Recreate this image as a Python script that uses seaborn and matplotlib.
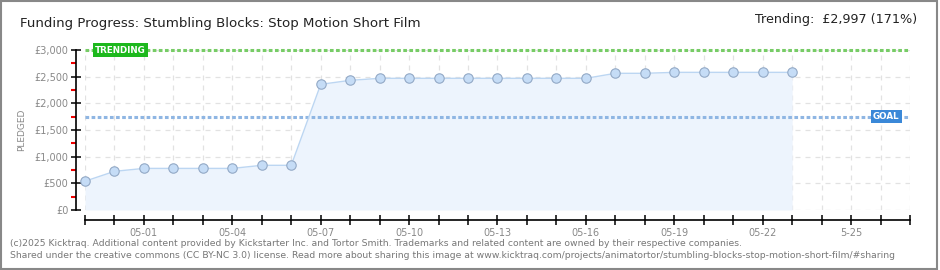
import matplotlib
matplotlib.use("Agg")
import matplotlib.pyplot as plt
import matplotlib.dates as mdates
import matplotlib.transforms as mtransforms
from matplotlib.ticker import MultipleLocator, FuncFormatter, FixedLocator, FixedFormatter
from matplotlib.patches import Rectangle
import seaborn as sns
import pandas as pd

# ---------------- data ----------------
title = "Funding Progress: Stumbling Blocks: Stop Motion Short Film"
trending_text = "Trending:  £2,997 (171%)"
dates = ["2025-04-29", "2025-04-30", "2025-05-01", "2025-05-02", "2025-05-03",
         "2025-05-04", "2025-05-05", "2025-05-06", "2025-05-07", "2025-05-08",
         "2025-05-09", "2025-05-10", "2025-05-11", "2025-05-12", "2025-05-13",
         "2025-05-14", "2025-05-15", "2025-05-16", "2025-05-17", "2025-05-18",
         "2025-05-19", "2025-05-20", "2025-05-21", "2025-05-22", "2025-05-23"]
pledged = [540, 725, 780, 780, 780, 780, 838, 838, 2356, 2431,
           2469, 2469, 2469, 2469, 2469, 2469, 2469, 2469, 2563, 2563,
           2581, 2581, 2581, 2581, 2581]
goal = 1750
trending = 2997
x_start, x_end = "2025-04-29", "2025-05-27"
xtick_dates = ["2025-05-01", "2025-05-04", "2025-05-07", "2025-05-10", "2025-05-13",
               "2025-05-16", "2025-05-19", "2025-05-22", "2025-05-25"]
xtick_labels = ["05-01", "05-04", "05-07", "05-10", "05-13", "05-16", "05-19", "05-22", "5-25"]
minor_yticks = [250, 750, 1250, 1750, 2250, 2750]
footer_lines = [
    "(c)2025 Kicktraq. Additional content provided by Kickstarter Inc. and Tortor Smith. Trademarks and related content are owned by their respective companies.",
    "Shared under the creative commons (CC BY-NC 3.0) license. Read more about sharing this image at www.kicktraq.com/projects/animatortor/stumbling-blocks-stop-motion-short-film/#sharing",
]

df = pd.DataFrame({"date": pd.to_datetime(dates), "pledged": pledged})

# ---------------- style ----------------
sns.set_theme(style="white")
plt.rcParams["font.family"] = ["DejaVu Sans"]

fig = plt.figure(figsize=(9.4, 2.7), dpi=100)
ax = fig.add_axes([85 / 940, 60 / 270, 825 / 940, 160 / 270])

# area fill
ax.fill_between(df["date"], df["pledged"], 0, color="#edf4fd", zorder=1, linewidth=0)

# grid
for d in pd.date_range(x_start, x_end, freq="D"):
    ax.axvline(d, color="#e2e2e2", lw=0.9, ls=(0, (4, 4)), zorder=0.5)
for v in range(0, 3001, 500):
    ax.axhline(v, color="#e2e2e2", lw=0.9, ls=(0, (4, 4)), zorder=0.5)

# goal / trending lines
ax.axhline(goal, color="#8fb6e3", lw=2.2, ls=(0, (1.2, 0.8)), zorder=2)
ax.axhline(trending, color="#77cc66", lw=2.2, ls=(0, (1.2, 0.8)), zorder=2, clip_on=False)

# line + markers
sns.lineplot(data=df, x="date", y="pledged", ax=ax, color="#bcd6f2", lw=1.0, zorder=3)
sns.scatterplot(data=df, x="date", y="pledged", ax=ax, color="#c5dcf6", edgecolor="#93a9c6",
                s=46, linewidth=0.8, zorder=4, clip_on=False)

ax.set_xlim(pd.Timestamp(x_start), pd.Timestamp(x_end))
ax.set_ylim(0, 3000)

# labels boxes
blend = mtransforms.blended_transform_factory(ax.transAxes, ax.transData)
ax.text(0.012, trending, "TRENDING", transform=blend, ha="left", va="center",
        fontsize=6.3, color="white", fontweight="bold", zorder=6,
        bbox=dict(boxstyle="square,pad=0.25", fc="#1db81d", ec="none"))
ax.text(0.955, goal, "GOAL", transform=blend, ha="left", va="center",
        fontsize=6.3, color="white", fontweight="bold", zorder=6,
        bbox=dict(boxstyle="square,pad=0.25", fc="#3a88d8", ec="none"))

# spines
for s in ["top", "right"]:
    ax.spines[s].set_visible(False)
ax.spines["left"].set_position(("outward", 6.5))
ax.spines["bottom"].set_position(("outward", 7.2))
ax.spines["left"].set_color("black")
ax.spines["bottom"].set_color("black")
ax.spines["left"].set_linewidth(1.2)
ax.spines["bottom"].set_linewidth(1.2)

# y ticks
ax.yaxis.set_major_locator(MultipleLocator(500))
ax.yaxis.set_minor_locator(FixedLocator(minor_yticks))
ax.yaxis.set_major_formatter(FuncFormatter(lambda v, p: f"£{int(v):,}"))
ax.tick_params(axis="y", which="major", direction="inout", length=7, width=1.1,
               color="black", labelsize=7, labelcolor="#888888", pad=2, left=True)
ax.tick_params(axis="y", which="minor", direction="out", length=3.5, width=1.5,
               color="#ee0000", left=True)

# x ticks
ax.xaxis.set_minor_locator(mdates.DayLocator())
ax.xaxis.set_major_locator(FixedLocator([mdates.date2num(pd.Timestamp(d)) for d in xtick_dates]))
ax.xaxis.set_major_formatter(FixedFormatter(xtick_labels))
ax.tick_params(axis="x", which="both", direction="inout", length=7, width=1.1,
               color="black", labelsize=7, labelcolor="#888888", pad=2, bottom=True)

ax.set_xlabel("")
ax.set_ylabel("PLEDGED", fontsize=6.5, color="#888888", labelpad=6)

# title texts
fig.text(20 / 940, 1 - 23 / 270, title, fontsize=9.6, color="#222222", va="center", ha="left")
fig.text(917 / 940, 1 - 20 / 270, trending_text, fontsize=9.2, color="#222222", va="center", ha="right")

# footer
fig.text(10 / 940, 1 - 243 / 270, footer_lines[0], fontsize=6.7, color="#777777", va="center", ha="left")
fig.text(10 / 940, 1 - 255 / 270, footer_lines[1], fontsize=6.7, color="#777777", va="center", ha="left")

# border
fig.patches.append(Rectangle((0.001, 0.003), 0.996, 0.993, transform=fig.transFigure,
                             fill=False, ec="#888888", lw=1.5))

fig.savefig("out.png", dpi=100)
